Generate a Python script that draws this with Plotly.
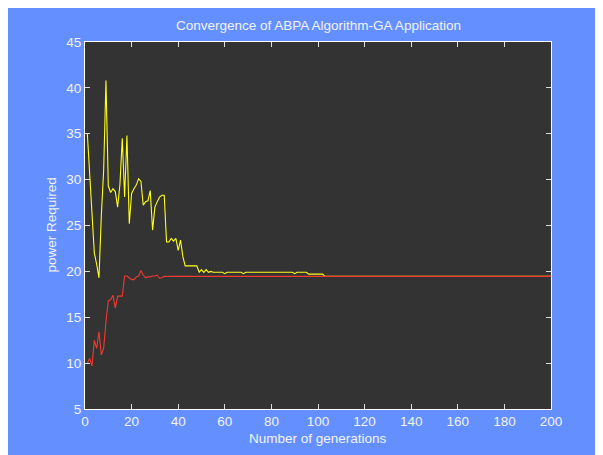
import plotly.graph_objects as go

# ---- data ----
generations = list(range(1, 201))

ga_values = [35.0, 31.0, 26.5, 22.0, 20.8, 19.3, 26.0, 31.0, 40.8, 29.3,
             28.6, 29.0, 28.7, 27.0, 29.5, 34.5, 28.1, 34.8, 25.2, 28.5,
             29.0, 29.4, 30.1, 29.8, 27.2, 27.6, 27.7, 28.8, 24.5, 27.0,
             27.6, 28.1, 28.3, 28.3, 23.2, 23.2, 23.6, 23.3, 23.6, 22.3,
             23.4, 21.6] \
    + [20.6] * 6 \
    + [19.9, 20.2, 19.9, 20.2, 19.9, 20.0] \
    + [19.9] * 5 + [19.75] \
    + [19.9] * 7 + [19.75] \
    + [19.9] * 21 + [19.75] \
    + [19.9] * 5 \
    + [19.7] * 7 \
    + [19.45] * 98

abpa_values = [10.0, 10.5, 9.7, 12.5, 11.6, 13.4, 10.9, 11.6, 14.5, 16.8,
               16.9, 17.4, 16.0, 17.3, 17.3, 17.3, 19.5, 19.5, 19.3, 19.1,
               19.1, 19.4, 19.5, 20.1, 19.6, 19.3, 19.4, 19.4, 19.5, 19.5,
               19.6, 19.25, 19.3] \
    + [19.45] * 167

x_ticks = [0, 20, 40, 60, 80, 100, 120, 140, 160, 180, 200]
y_ticks = [5, 10, 15, 20, 25, 30, 35, 40, 45]

title_text = "Convergence of ABPA Algorithm-GA Application"
x_label = "Number of generations"
y_label = "power Required"

# ---- styling ----
FIG_BLUE = "#6490FF"
AX_BG = "#333333"
TXT = "#F2F2F2"
FONT = "Liberation Sans, Arial, sans-serif"
FS = 13.5

fig = go.Figure()
fig.add_trace(go.Scatter(x=generations, y=ga_values, mode="lines",
                         line=dict(color="#FFFF1A", width=1.1),
                         hoverinfo="skip", showlegend=False))
fig.add_trace(go.Scatter(x=generations, y=abpa_values, mode="lines",
                         line=dict(color="#F03A30", width=1.1),
                         hoverinfo="skip", showlegend=False))

axis_common = dict(
    showgrid=False, zeroline=False,
    showline=True, linecolor="#FFFFFF", linewidth=1.2,
    mirror="allticks", ticks="inside", ticklen=5, tickwidth=1,
    tickcolor="#DDDDDD",
    tickfont=dict(family=FONT, size=FS, color=TXT),
)

fig.update_layout(
    width=603, height=455,
    margin=dict(l=77, r=60, t=34, b=54, pad=0),
    paper_bgcolor=FIG_BLUE,
    plot_bgcolor=AX_BG,
    font=dict(family=FONT, color=TXT),
    xaxis=dict(range=[0, 200], tickvals=x_ticks,
               ticktext=[str(v) for v in x_ticks], **axis_common),
    yaxis=dict(range=[5, 45], tickvals=y_ticks,
               ticktext=[str(v) for v in y_ticks], **axis_common),
    showlegend=False,
)

fig.add_annotation(text=title_text, xref="paper", yref="paper",
                   x=0.5, y=1.0 + 17.0 / 367.0, yanchor="middle",
                   showarrow=False,
                   font=dict(family=FONT, size=FS, color=TXT))
fig.add_annotation(text=x_label, xref="paper", yref="paper",
                   x=0.5, y=-29.0 / 367.0, yanchor="middle",
                   showarrow=False,
                   font=dict(family=FONT, size=FS, color=TXT))
fig.add_annotation(text=y_label, xref="paper", yref="paper",
                   x=-34.0 / 466.0, y=0.5, xanchor="center",
                   textangle=-90, showarrow=False,
                   font=dict(family=FONT, size=FS, color=TXT))

fig.write_html("out.html")
